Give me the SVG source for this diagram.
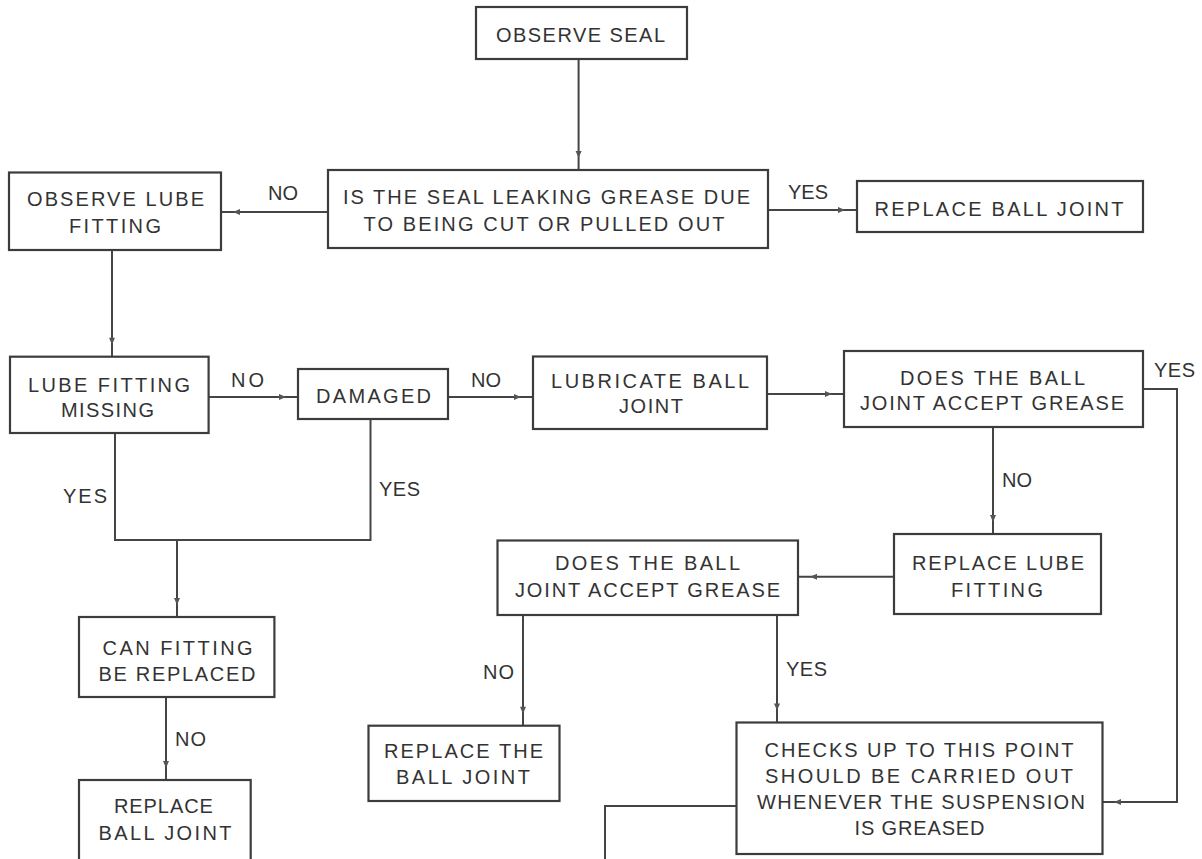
<svg xmlns="http://www.w3.org/2000/svg" width="1202" height="859" viewBox="0 0 1202 859">
<style>
.box{fill:#fff;stroke:#3c3c3c;stroke-width:2.2}
.t{font-family:"Liberation Sans",Arial,sans-serif;font-size:20px;fill:#333;text-anchor:middle}
.l{font-family:"Liberation Sans",Arial,sans-serif;font-size:20px;fill:#333}
.c{fill:none;stroke:#444;stroke-width:2}
.a{marker-end:url(#ah)}
</style>
<defs>
<marker id="ah" markerUnits="userSpaceOnUse" markerWidth="8" markerHeight="6" refX="19" refY="3" orient="auto" overflow="visible">
<path d="M0,0 L7,3 L0,6 z" fill="#555"/>
</marker>
</defs>
<rect width="1202" height="859" fill="#fff"/>
<g id="connectors">
<path class="c a" d="M578.6,59 V170"/>
<path class="c a" d="M328,212 H221"/>
<path class="c a" d="M768,210 H857"/>
<path class="c a" d="M112,250 V356.7"/>
<path class="c a" d="M208.6,397 H298"/>
<path class="c a" d="M448,397 H533"/>
<path class="c a" d="M767,394 H844"/>
<path class="c a" d="M1143,389 H1177 V802 H1102"/>
<path class="c a" d="M993,427 V534"/>
<path class="c a" d="M894,576.7 H798"/>
<path class="c a" d="M523,615 V725.7"/>
<path class="c a" d="M777,615 V722.5"/>
<path class="c" d="M115,433 V540 H370.5 V419"/>
<path class="c a" d="M177,540 V617"/>
<path class="c a" d="M166,697 V780"/>
<path class="c" d="M736,806 H605 V862"/>
<text class="l" x="268" y="200" textLength="30">NO</text>
<text class="l" x="788" y="199" textLength="40">YES</text>
<text class="l" x="231" y="387" textLength="33">NO</text>
<text class="l" x="471" y="387" textLength="30">NO</text>
<text class="l" x="1154" y="377" textLength="41">YES</text>
<text class="l" x="1002" y="487" textLength="30">NO</text>
<text class="l" x="63" y="503" textLength="44">YES</text>
<text class="l" x="379" y="496" textLength="41">YES</text>
<text class="l" x="483" y="679" textLength="31">NO</text>
<text class="l" x="786" y="676" textLength="41">YES</text>
<text class="l" x="175" y="746" textLength="31">NO</text>
</g>
<g id="observe-seal">
<rect class="box" x="476" y="7" width="211" height="52"/>
<text class="t" x="580.5" y="41.5" textLength="169">OBSERVE SEAL</text>
</g>
<g id="seal-leaking">
<rect class="box" x="328" y="170" width="440" height="78"/>
<text class="t" x="546.5" y="204" textLength="407">IS THE SEAL LEAKING GREASE DUE</text>
<text class="t" x="544" y="231" textLength="361">TO BEING CUT OR PULLED OUT</text>
</g>
<g id="observe-lube">
<rect class="box" x="9" y="172.5" width="212" height="77.5"/>
<text class="t" x="115.5" y="206" textLength="177">OBSERVE LUBE</text>
<text class="t" x="115" y="233" textLength="92">FITTING</text>
</g>
<g id="replace-ball-joint-1">
<rect class="box" x="857" y="181" width="286" height="51"/>
<text class="t" x="999" y="216" textLength="249">REPLACE BALL JOINT</text>
</g>
<g id="lube-missing">
<rect class="box" x="10" y="356.7" width="198.6" height="76.3"/>
<text class="t" x="109" y="391.5" textLength="162">LUBE FITTING</text>
<text class="t" x="107.5" y="417" textLength="93">MISSING</text>
</g>
<g id="damaged">
<rect class="box" x="298" y="369" width="150" height="50"/>
<text class="t" x="373.5" y="403" textLength="115">DAMAGED</text>
</g>
<g id="lubricate">
<rect class="box" x="533" y="356.5" width="234" height="72.5"/>
<text class="t" x="650" y="388" textLength="198">LUBRICATE BALL</text>
<text class="t" x="651" y="413" textLength="64">JOINT</text>
</g>
<g id="accept-grease-1">
<rect class="box" x="844" y="351" width="299" height="76"/>
<text class="t" x="992.5" y="385" textLength="185">DOES THE BALL</text>
<text class="t" x="992" y="410" textLength="264">JOINT ACCEPT GREASE</text>
</g>
<g id="replace-lube">
<rect class="box" x="894" y="534" width="207" height="80"/>
<text class="t" x="998" y="570" textLength="172">REPLACE LUBE</text>
<text class="t" x="997" y="597" textLength="92">FITTING</text>
</g>
<g id="accept-grease-2">
<rect class="box" x="497.5" y="540.5" width="300.5" height="74.5"/>
<text class="t" x="647.5" y="570" textLength="185">DOES THE BALL</text>
<text class="t" x="647.5" y="597" textLength="265">JOINT ACCEPT GREASE</text>
</g>
<g id="replace-the-ball-joint">
<rect class="box" x="368.5" y="725.7" width="191" height="75.3"/>
<text class="t" x="463.5" y="758" textLength="159">REPLACE THE</text>
<text class="t" x="463" y="784" textLength="134">BALL JOINT</text>
</g>
<g id="can-fitting">
<rect class="box" x="79" y="617" width="195.4" height="80"/>
<text class="t" x="177.6" y="655" textLength="150">CAN FITTING</text>
<text class="t" x="177" y="681" textLength="157">BE REPLACED</text>
</g>
<g id="replace-ball-joint-2">
<rect class="box" x="79" y="780" width="171.7" height="84"/>
<text class="t" x="163.4" y="813" textLength="99">REPLACE</text>
<text class="t" x="165" y="840" textLength="133">BALL JOINT</text>
</g>
<g id="checks">
<rect class="box" x="736.5" y="722.5" width="366" height="131.5"/>
<text class="t" x="919" y="757" textLength="309">CHECKS UP TO THIS POINT</text>
<text class="t" x="919" y="783" textLength="308">SHOULD BE CARRIED OUT</text>
<text class="t" x="921" y="809" textLength="328">WHENEVER THE SUSPENSION</text>
<text class="t" x="919.5" y="835" textLength="130">IS GREASED</text>
</g>
</svg>
